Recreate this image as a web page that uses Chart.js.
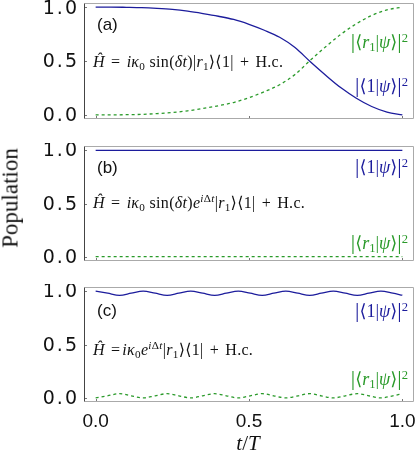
<!DOCTYPE html>
<html><head><meta charset="utf-8">
<script src="https://cdn.jsdelivr.net/npm/chart.js@4.4.1/dist/chart.umd.min.js"></script>
<style>
html,body{margin:0;padding:0;background:#fff;}
#wrap{position:relative;width:415px;height:458px;overflow:hidden;background:#fff;}
.pn{position:absolute;left:0;width:415px;}
.t{position:absolute;white-space:nowrap;line-height:1;transform:translateY(-50%);font-family:"Liberation Serif","DejaVu Serif",serif;color:#111;}
.lab{font-family:"Liberation Sans",Arial,sans-serif;font-size:17px;}
.eq{font-size:16px;letter-spacing:0.3px;}
.op{margin:0 0.12em;}
.t sub{font-size:70%;vertical-align:-0.25em;line-height:0;}
.t sup{font-size:70%;vertical-align:0.5em;line-height:0;}
.st{font-size:18px;}
.big{font-size:22px;}
.blue{color:#1c1c9c;}
.green{color:#2a9a2a;}
</style></head>
<body>
<div id="wrap">
  <div class="pn" style="top:0;height:122px;"><canvas id="ca"></canvas></div>
  <div class="pn" style="top:143px;height:121px;"><canvas id="cb"></canvas></div>
  <div class="pn" style="top:284px;height:174px;"><canvas id="cc"></canvas></div>

  <div class="t lab" style="left:97px;top:24px;">(a)</div>
  <div class="t eq" style="left:93px;top:62px;"><i>Ĥ</i> <span class="op">=</span> <i>iκ</i><sub>0</sub> sin(<i>δt</i>)|<i>r</i><sub>1</sub>⟩⟨1| <span class="op">+</span> H.c.</div>
  <div class="t st green" style="right:7px;top:41px;"><span class="big">|</span>⟨<i>r</i><sub>1</sub>|<i>ψ</i>⟩<span class="big">|</span><sup>2</sup></div>
  <div class="t st blue" style="right:7px;top:85px;"><span class="big">|</span>⟨1|<i>ψ</i>⟩<span class="big">|</span><sup>2</sup></div>

  <div class="t lab" style="left:97px;top:167px;">(b)</div>
  <div class="t eq" style="left:93px;top:203px;"><i>Ĥ</i> <span class="op">=</span> <i>iκ</i><sub>0</sub> sin(<i>δt</i>)<i>e</i><sup><i>i</i>Δ<i>t</i></sup>|<i>r</i><sub>1</sub>⟩⟨1| <span class="op">+</span> H.c.</div>
  <div class="t st blue" style="right:7px;top:166px;"><span class="big">|</span>⟨1|<i>ψ</i>⟩<span class="big">|</span><sup>2</sup></div>
  <div class="t st green" style="right:7px;top:242px;"><span class="big">|</span>⟨<i>r</i><sub>1</sub>|<i>ψ</i>⟩<span class="big">|</span><sup>2</sup></div>

  <div class="t lab" style="left:97px;top:310px;">(c)</div>
  <div class="t eq" style="left:93px;top:350px;"><i>Ĥ</i> <span class="op">=</span><i>iκ</i><sub>0</sub><i>e</i><sup><i>i</i>Δ<i>t</i></sup>|<i>r</i><sub>1</sub>⟩⟨1| <span class="op">+</span> H.c.</div>
  <div class="t st blue" style="right:7px;top:310px;"><span class="big">|</span>⟨1|<i>ψ</i>⟩<span class="big">|</span><sup>2</sup></div>
  <div class="t st green" style="right:7px;top:378px;"><span class="big">|</span>⟨<i>r</i><sub>1</sub>|<i>ψ</i>⟩<span class="big">|</span><sup>2</sup></div>

  <div class="t" style="left:10px;top:198px;font-size:23px;transform:translate(-50%,-50%) rotate(-90deg);">Population</div>
  <div class="t" style="left:248px;top:443px;font-size:21px;transform:translate(-50%,-50%);"><i>t</i>/<i>T</i></div>
</div>
<script>
// ---- data ----
const tA = [0,0.05,0.10,0.15,0.20,0.25,0.30,0.35,0.40,0.45,0.50,0.55,0.60,0.65,0.70,0.75,0.80,0.85,0.90,0.95,1.00];
const blueA = [1.000,1.000,0.998,0.995,0.988,0.978,0.962,0.940,0.915,0.885,0.840,0.785,0.720,0.625,0.493,0.368,0.251,0.155,0.078,0.026,0.000];
const greenA = [0.000,0.000,0.002,0.005,0.012,0.022,0.038,0.060,0.085,0.115,0.160,0.215,0.280,0.375,0.507,0.632,0.749,0.845,0.922,0.974,1.000];

const tB = [0,0.25,0.50,0.75,1.00];
const blueB = [0.998,0.998,0.998,0.998,0.998];
const greenB = [0.003,0.003,0.003,0.003,0.003];

const tC = [0,0.039,0.078,0.116,0.155,0.194,0.233,0.271,0.310,0.349,0.388,0.426,0.465,0.504,0.543,0.581,0.620,0.659,0.698,0.736,0.775,0.814,0.853,0.891,0.930,0.969,1.000];
const blueC = [1,0.98,0.96,0.98,1,0.98,0.96,0.98,1,0.98,0.96,0.98,1,0.98,0.96,0.98,1,0.98,0.96,0.98,1,0.98,0.96,0.98,1,0.98,0.961];
const greenC = [0,0.02,0.04,0.02,0,0.02,0.04,0.02,0,0.02,0.04,0.02,0,0.02,0.04,0.02,0,0.02,0.04,0.02,0,0.02,0.04,0.02,0,0.02,0.039];

const yTicks = [0, 0.5, 1];
const xTicks = [0, 0.5, 1];
const yTickLabels = ['0.0','0.5','1.0'];
const xTickLabels = ['0.0','0.5','1.0'];

const BLUE = '#1c1c9c';
const GREEN = '#2a9a2a';

const framePlugin = {
  id: 'frame',
  beforeDraw(chart) { chart.ctx.letterSpacing = '2px'; },
  beforeDatasetsDraw(chart) { chart.ctx.letterSpacing = '0px'; },
  afterDatasetsDraw(chart) {
    const {ctx, chartArea: a, scales} = chart;
    ctx.save();
    ctx.lineWidth = 1;
    ctx.strokeStyle = '#777';
    ctx.beginPath();
    xTicks.forEach(v => {
      const px = Math.round(scales.x.getPixelForValue(v)) + 0.5;
      ctx.moveTo(px, a.bottom); ctx.lineTo(px, a.bottom - 3);
    });
    yTicks.forEach(v => {
      const py = Math.round(scales.y.getPixelForValue(v)) + 0.5;
      ctx.moveTo(a.left, py); ctx.lineTo(a.left + 3, py);
    });
    ctx.stroke();
    const L = Math.round(a.left) + 0.5, R = Math.round(a.right) - 0.5;
    const T = Math.round(a.top) + 0.5, B = Math.round(a.bottom) - 0.5;
    ctx.strokeStyle = '#aaa';
    ctx.beginPath();
    ctx.moveTo(L, T); ctx.lineTo(R, T); ctx.lineTo(R, B); ctx.lineTo(L, B);
    ctx.stroke();
    ctx.strokeStyle = '#444';
    ctx.beginPath();
    ctx.moveTo(L, T); ctx.lineTo(L, B);
    ctx.stroke();
    ctx.restore();
  }
};

function noPad(s) { s.paddingTop = 0; s.paddingBottom = 0; s.paddingLeft = 0; s.paddingRight = 0; }

function makeChart(id, t, blue, green, showX) {
  const xs = {
    type: 'linear', min: -0.038, max: 1.038, display: showX,
    afterBuildTicks: s => { s.ticks = xTicks.map(v => ({value: v})); },
    afterFit: s => { noPad(s); if (showX) s.height = 56; },
    ticks: {
      font: {family: 'Liberation Sans', size: 19}, color: '#111', padding: 8, z: 1,
      maxRotation: 0, autoSkip: false,
      callback: (v) => xTickLabels[xTicks.indexOf(v)]
    },
    grid: {display: false, drawTicks: false},
    border: {display: false}
  };
  return new Chart(document.getElementById(id), {
    type: 'line',
    data: {
      datasets: [
        {data: t.map((x, i) => ({x, y: blue[i]})), borderColor: BLUE, borderWidth: 1.3,
         pointRadius: 0, cubicInterpolationMode: 'monotone', fill: false},
        {data: t.map((x, i) => ({x, y: green[i]})), borderColor: GREEN, borderWidth: 1.3,
         borderDash: [3, 3], pointRadius: 0, cubicInterpolationMode: 'monotone', fill: false}
      ]
    },
    options: {
      responsive: true, maintainAspectRatio: false, animation: false,
      layout: {padding: {top: 3, right: 1, bottom: showX ? 0 : 3, left: 0}},
      plugins: {legend: {display: false}, tooltip: {enabled: false}},
      scales: {
        x: xs,
        y: {
          type: 'linear', min: -0.038, max: 1.038, position: 'left',
          afterBuildTicks: s => { s.ticks = yTicks.map(v => ({value: v})); },
          afterFit: s => { s.width = 84; noPad(s); },
          ticks: {
            font: {family: 'DejaVu Sans', size: 19}, color: '#111', padding: 5, labelOffset: 1.5,
            callback: (v) => yTickLabels[yTicks.indexOf(v)]
          },
          grid: {display: false, drawTicks: false},
          border: {display: false}
        }
      }
    },
    plugins: [framePlugin]
  });
}

makeChart('ca', tA, blueA, greenA, false);
makeChart('cb', tB, blueB, greenB, false);
makeChart('cc', tC, blueC, greenC, true);
</script>
</body></html>
